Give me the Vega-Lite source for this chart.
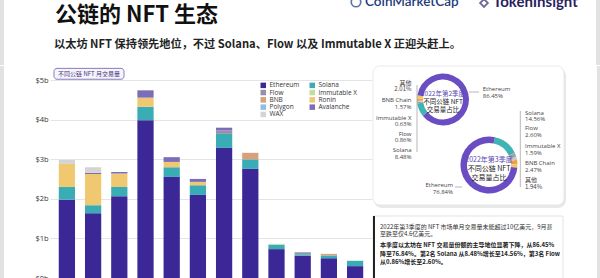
{
  "$schema": "https://vega.github.io/schema/vega-lite/v6.json",
  "background": "white",
  "padding": {"left": 0, "top": 0, "right": 0, "bottom": 0},
  "spacing": 0,
  "config": {"view": {"stroke": null}, "font": "Noto Sans CJK SC"},
  "resolve": {"scale": {"color": "independent"}, "legend": {"color": "independent"}},
  "data": {"values": [{}]},
  "datasets": {
    "bars": [
      {"month": "2021-10", "chain": "Ethereum", "rank": 1, "value": 1.98},
      {"month": "2021-10", "chain": "Solana", "rank": 2, "value": 0.32},
      {"month": "2021-10", "chain": "Ronin", "rank": 6, "value": 0.585},
      {"month": "2021-10", "chain": "WAX", "rank": 9, "value": 0.10},
      {"month": "2021-11", "chain": "Ethereum", "rank": 1, "value": 1.64},
      {"month": "2021-11", "chain": "Solana", "rank": 2, "value": 0.20},
      {"month": "2021-11", "chain": "Ronin", "rank": 6, "value": 0.79},
      {"month": "2021-11", "chain": "Avalanche", "rank": 8, "value": 0.03},
      {"month": "2021-11", "chain": "WAX", "rank": 9, "value": 0.14},
      {"month": "2021-12", "chain": "Ethereum", "rank": 1, "value": 2.07},
      {"month": "2021-12", "chain": "Solana", "rank": 2, "value": 0.23},
      {"month": "2021-12", "chain": "Ronin", "rank": 6, "value": 0.34},
      {"month": "2021-12", "chain": "Avalanche", "rank": 8, "value": 0.04},
      {"month": "2022-01", "chain": "Ethereum", "rank": 1, "value": 3.99},
      {"month": "2022-01", "chain": "Solana", "rank": 2, "value": 0.34},
      {"month": "2022-01", "chain": "Ronin", "rank": 6, "value": 0.23},
      {"month": "2022-01", "chain": "Avalanche", "rank": 8, "value": 0.185},
      {"month": "2022-02", "chain": "Ethereum", "rank": 1, "value": 2.555},
      {"month": "2022-02", "chain": "Solana", "rank": 2, "value": 0.245},
      {"month": "2022-02", "chain": "Ronin", "rank": 6, "value": 0.135},
      {"month": "2022-02", "chain": "Avalanche", "rank": 8, "value": 0.12},
      {"month": "2022-03", "chain": "Ethereum", "rank": 1, "value": 2.10},
      {"month": "2022-03", "chain": "Solana", "rank": 2, "value": 0.245},
      {"month": "2022-03", "chain": "Ronin", "rank": 6, "value": 0.085},
      {"month": "2022-03", "chain": "Avalanche", "rank": 8, "value": 0.075},
      {"month": "2022-04", "chain": "Ethereum", "rank": 1, "value": 3.29},
      {"month": "2022-04", "chain": "Solana", "rank": 2, "value": 0.355},
      {"month": "2022-04", "chain": "Flow", "rank": 3, "value": 0.085},
      {"month": "2022-04", "chain": "Avalanche", "rank": 8, "value": 0.07},
      {"month": "2022-05", "chain": "Ethereum", "rank": 1, "value": 2.76},
      {"month": "2022-05", "chain": "Solana", "rank": 2, "value": 0.24},
      {"month": "2022-05", "chain": "BNB", "rank": 5, "value": 0.165},
      {"month": "2022-06", "chain": "Ethereum", "rank": 1, "value": 0.73},
      {"month": "2022-06", "chain": "Solana", "rank": 2, "value": 0.11},
      {"month": "2022-06", "chain": "Immutable X", "rank": 4, "value": 0.025},
      {"month": "2022-07", "chain": "Ethereum", "rank": 1, "value": 0.56},
      {"month": "2022-07", "chain": "Solana", "rank": 2, "value": 0.04},
      {"month": "2022-07", "chain": "Flow", "rank": 3, "value": 0.05},
      {"month": "2022-08", "chain": "Ethereum", "rank": 1, "value": 0.50},
      {"month": "2022-08", "chain": "Solana", "rank": 2, "value": 0.07},
      {"month": "2022-08", "chain": "BNB", "rank": 5, "value": 0.04},
      {"month": "2022-09", "chain": "Ethereum", "rank": 1, "value": 0.30},
      {"month": "2022-09", "chain": "Solana", "rank": 2, "value": 0.135}
    ],
    "q2": [
      {"name": "Solana", "rank": 1, "pct": 8.48},
      {"name": "Flow", "rank": 2, "pct": 0.86},
      {"name": "Immutable X", "rank": 3, "pct": 0.63},
      {"name": "BNB Chain", "rank": 4, "pct": 1.57},
      {"name": "其他", "rank": 5, "pct": 2.01},
      {"name": "Ethereum", "rank": 6, "pct": 86.45}
    ],
    "q3": [
      {"name": "Solana", "rank": 1, "pct": 14.56},
      {"name": "Flow", "rank": 2, "pct": 2.60},
      {"name": "Immutable X", "rank": 3, "pct": 1.59},
      {"name": "BNB Chain", "rank": 4, "pct": 2.47},
      {"name": "其他", "rank": 5, "pct": 1.94},
      {"name": "Ethereum", "rank": 6, "pct": 76.84}
    ]
  },
  "vconcat": [
    {
      "width": 550,
      "height": 65,
      "layer": [
        {
          "mark": {"type": "rect", "fill": "#e2e2e2"},
          "encoding": {
            "x": {"datum": -50, "type": "quantitative", "scale": {"domain": [0, 550], "nice": false, "zero": false}, "axis": null},
            "x2": {"datum": -46},
            "y": {"datum": 0, "type": "quantitative", "scale": {"domain": [0, 65], "nice": false, "zero": false, "reverse": true}, "axis": null},
            "y2": {"datum": 65}
          }
        },
        {
          "mark": {"type": "rect", "fill": "#e2e2e2"},
          "encoding": {
            "x": {"datum": 546, "type": "quantitative", "axis": null},
            "x2": {"datum": 550},
            "y": {"datum": 0, "type": "quantitative", "axis": null},
            "y2": {"datum": 65}
          }
        },
        {
          "mark": {"type": "text", "align": "left", "baseline": "middle", "fontSize": 22, "fontWeight": "bold", "color": "#111111", "font": "Noto Sans CJK SC"},
          "encoding": {
            "x": {"datum": 5, "type": "quantitative", "axis": null},
            "y": {"datum": 15, "type": "quantitative", "axis": null},
            "text": {"value": "公链的 NFT 生态"}
          }
        },
        {
          "mark": {"type": "text", "align": "left", "baseline": "middle", "fontSize": 11.2, "fontWeight": "bold", "color": "#222222", "font": "Noto Sans CJK SC"},
          "encoding": {
            "x": {"datum": 4, "type": "quantitative", "axis": null},
            "y": {"datum": 45, "type": "quantitative", "axis": null},
            "text": {"value": "以太坊 NFT 保持领先地位，不过 Solana、Flow 以及 Immutable X 正迎头赶上。"}
          }
        },
        {
          "mark": {"type": "point", "shape": "circle", "size": 90, "filled": false, "stroke": "#1d3b7c", "strokeWidth": 1.7, "clip": true},
          "encoding": {
            "x": {"datum": 306, "type": "quantitative", "axis": null},
            "y": {"datum": 2, "type": "quantitative", "axis": null}
          }
        },
        {
          "mark": {"type": "text", "align": "left", "baseline": "middle", "fontSize": 13.5, "fontWeight": 600, "color": "#1d3b7c", "font": "Lato", "clip": true},
          "encoding": {
            "x": {"datum": 315, "type": "quantitative", "axis": null},
            "y": {"datum": 2, "type": "quantitative", "axis": null},
            "text": {"value": "CoinMarketCap"}
          }
        },
        {
          "mark": {"type": "point", "shape": "diamond", "size": 60, "filled": false, "stroke": "#3a2c6e", "strokeWidth": 1.8, "clip": true},
          "encoding": {
            "x": {"datum": 434, "type": "quantitative", "axis": null},
            "y": {"datum": 3, "type": "quantitative", "axis": null}
          }
        },
        {
          "mark": {"type": "text", "align": "left", "baseline": "middle", "fontSize": 15, "fontWeight": "bold", "color": "#2c1e5e", "font": "Lato", "clip": true},
          "encoding": {
            "x": {"datum": 443, "type": "quantitative", "axis": null},
            "y": {"datum": 2, "type": "quantitative", "axis": null},
            "text": {"value": "TokenInsight"}
          }
        }
      ]
    },
    {
      "spacing": 0,
      "resolve": {"scale": {"color": "independent"}, "legend": {"color": "independent"}},
      "hconcat": [
        {
          "width": 322,
          "height": 212,
          "resolve": {"scale": {"x": "independent"}},
          "layer": [
            {
              "data": {"name": "bars"},
              "mark": {"type": "bar"},
              "encoding": {
                "x": {"field": "month", "type": "ordinal", "scale": {"paddingInner": 0.38, "paddingOuter": 0.335}, "axis": {"labels": false, "ticks": false, "title": null, "grid": false, "domainColor": "#2a2a2a", "domainWidth": 1}},
                "y": {"field": "value", "type": "quantitative", "stack": "zero", "scale": {"domain": [0, 5.36], "nice": false},
                  "axis": {"values": [0, 1, 2, 3, 4, 5], "labelExpr": "'$' + datum.value + 'b'", "title": null, "domain": false, "ticks": false, "tickSize": 0, "labelAlign": "left", "labelPadding": 15, "labelFontSize": 7.5, "labelFont": "Open Sans", "labelColor": "#333333", "gridColor": "#e4e4e4", "labelFlush": false, "labelBound": false}},
                "color": {"field": "chain", "type": "nominal",
                  "scale": {"domain": ["Ethereum", "Flow", "BNB", "Polygon", "WAX", "Solana", "Immutable X", "Ronin", "Avalanche"],
                            "range": ["#3b2795", "#9690ad", "#daa07a", "#8ec0e4", "#d4d4d4", "#3aacb6", "#c6dc9c", "#efc870", "#7d6db8"]},
                  "legend": {"orient": "none", "legendX": 210, "legendY": 16, "columns": 2, "title": null, "symbolType": "square", "symbolSize": 30, "symbolStrokeWidth": 0, "labelFontSize": 6.5, "labelFont": "Open Sans", "labelColor": "#333333", "rowPadding": 0.3, "columnPadding": 9, "labelOffset": 3, "padding": 0}},
                "order": {"field": "rank", "type": "quantitative"}
              }
            },
            {
              "data": {"values": [{}]},
              "mark": {"type": "rect", "fill": "#e2e2e2"},
              "encoding": {
                "x": {"datum": -50, "type": "quantitative", "scale": {"domain": [0, 322], "nice": false, "zero": false}, "axis": null},
                "x2": {"datum": -46},
                "y": {"datum": 0, "type": "quantitative"},
                "y2": {"datum": 5.36}
              }
            },
            {
              "data": {"values": [{}]},
              "mark": {"type": "rect", "fill": "#f6f4fc", "stroke": "#6b5cae", "strokeWidth": 0.8, "cornerRadius": 3},
              "encoding": {
                "x": {"datum": 4, "type": "quantitative", "scale": {"domain": [0, 322], "nice": false, "zero": false}, "axis": null},
                "x2": {"datum": 74},
                "y": {"datum": 5.30, "type": "quantitative"},
                "y2": {"datum": 5.025}
              }
            },
            {
              "data": {"values": [{}]},
              "mark": {"type": "text", "align": "center", "baseline": "middle", "fontSize": 6, "color": "#3c2f7a", "font": "Noto Sans CJK SC"},
              "encoding": {
                "x": {"datum": 39, "type": "quantitative", "scale": {"domain": [0, 322], "nice": false, "zero": false}, "axis": null},
                "y": {"datum": 5.165, "type": "quantitative"},
                "text": {"value": "不同公链 NFT 月交易量"}
              }
            }
          ]
        },
        {
          "width": 228,
          "height": 213,
          "resolve": {"scale": {"theta": "independent"}},
          "layer": [
            {
              "mark": {"type": "rect", "fill": "#e2e2e2"},
              "encoding": {
                "x": {"datum": 224, "type": "quantitative", "scale": {"domain": [0, 228], "nice": false, "zero": false}, "axis": null},
                "x2": {"datum": 228},
                "y": {"datum": 0, "type": "quantitative", "scale": {"domain": [0, 213], "nice": false, "zero": false, "reverse": true}, "axis": null},
                "y2": {"datum": 213}
              }
            },
            {
              "mark": {"type": "rect", "fill": "#e8e8e8", "cornerRadius": 8},
              "encoding": {
                "x": {"datum": 1, "type": "quantitative", "axis": null},
                "x2": {"datum": 193},
                "y": {"datum": 2, "type": "quantitative", "axis": null},
                "y2": {"datum": 142}
              }
            },
            {
              "mark": {"type": "rect", "fill": "white", "stroke": "#e3e3e3", "strokeWidth": 0.8, "cornerRadius": 7},
              "encoding": {
                "x": {"datum": 0, "type": "quantitative", "axis": null},
                "x2": {"datum": 191},
                "y": {"datum": 0, "type": "quantitative", "axis": null},
                "y2": {"datum": 139}
              }
            },
            {
              "data": {"name": "q2"},
              "mark": {"type": "arc", "outerRadius": 26, "innerRadius": 20},
              "encoding": {
                "x": {"datum": 70, "type": "quantitative", "axis": null},
                "y": {"datum": 33.5, "type": "quantitative", "axis": null},
                "theta": {"field": "pct", "type": "quantitative", "stack": true, "scale": {"domain": [0, 100], "range": [4.03, 10.313]}},
                "color": {"field": "name", "type": "nominal",
                  "scale": {"domain": ["Ethereum", "Solana", "Flow", "Immutable X", "BNB Chain", "其他"],
                            "range": ["#6a4dc3", "#3fb5b3", "#a3a3ad", "#c9c9c9", "#f0a048", "#f2c862"]},
                  "legend": null},
                "order": {"field": "rank", "type": "quantitative"}
              }
            },
            {
              "data": {"name": "q3"},
              "mark": {"type": "arc", "outerRadius": 28.5, "innerRadius": 22},
              "encoding": {
                "x": {"datum": 116, "type": "quantitative", "axis": null},
                "y": {"datum": 99, "type": "quantitative", "axis": null},
                "theta": {"field": "pct", "type": "quantitative", "stack": true, "scale": {"domain": [0, 100], "range": [0.21, 6.493]}},
                "color": {"field": "name", "type": "nominal", "legend": null},
                "order": {"field": "rank", "type": "quantitative"}
              }
            },
            {
              "mark": {"type": "text", "align": "center", "baseline": "middle", "fontSize": 6.5, "color": "#5b49b5", "font": "Noto Sans CJK SC"},
              "encoding": {
                "x": {"datum": 70, "type": "quantitative", "axis": null},
                "y": {"datum": 28.3, "type": "quantitative", "axis": null},
                "text": {"value": "2022年第2季度"}
              }
            },
            {
              "mark": {"type": "text", "align": "center", "baseline": "middle", "fontSize": 6.5, "lineHeight": 8, "color": "#222222", "font": "Noto Sans CJK SC"},
              "encoding": {
                "x": {"datum": 70, "type": "quantitative", "axis": null},
                "y": {"datum": 35.9, "type": "quantitative", "axis": null},
                "text": {"value": ["不同公链 NFT", "交易量占比"]}
              }
            },
            {
              "mark": {"type": "text", "align": "center", "baseline": "middle", "fontSize": 7, "color": "#5b49b5", "font": "Noto Sans CJK SC"},
              "encoding": {
                "x": {"datum": 116, "type": "quantitative", "axis": null},
                "y": {"datum": 94.3, "type": "quantitative", "axis": null},
                "text": {"value": "2022年第3季度"}
              }
            },
            {
              "mark": {"type": "text", "align": "center", "baseline": "middle", "fontSize": 7, "lineHeight": 9, "color": "#222222", "font": "Noto Sans CJK SC"},
              "encoding": {
                "x": {"datum": 116, "type": "quantitative", "axis": null},
                "y": {"datum": 103.3, "type": "quantitative", "axis": null},
                "text": {"value": ["不同公链 NFT", "交易量占比"]}
              }
            },
            {
              "mark": {"type": "text", "align": "right", "baseline": "middle", "fontSize": 6, "lineHeight": 6.5, "color": "#444444", "font": "Noto Sans CJK SC"},
              "encoding": {"x": {"datum": 38.5, "type": "quantitative", "axis": null}, "y": {"datum": 16.7, "type": "quantitative", "axis": null}, "text": {"value": ["其他", "2.01%"]}}
            },
            {
              "mark": {"type": "text", "align": "right", "baseline": "middle", "fontSize": 6, "lineHeight": 6.5, "color": "#444444", "font": "Open Sans"},
              "encoding": {"x": {"datum": 38.5, "type": "quantitative", "axis": null}, "y": {"datum": 34.3, "type": "quantitative", "axis": null}, "text": {"value": ["BNB Chain", "1.57%"]}}
            },
            {
              "mark": {"type": "text", "align": "right", "baseline": "middle", "fontSize": 6, "lineHeight": 6.5, "color": "#444444", "font": "Open Sans"},
              "encoding": {"x": {"datum": 38.5, "type": "quantitative", "axis": null}, "y": {"datum": 51.7, "type": "quantitative", "axis": null}, "text": {"value": ["Immutable X", "0.63%"]}}
            },
            {
              "mark": {"type": "text", "align": "right", "baseline": "middle", "fontSize": 6, "lineHeight": 6.5, "color": "#444444", "font": "Open Sans"},
              "encoding": {"x": {"datum": 38.5, "type": "quantitative", "axis": null}, "y": {"datum": 67.7, "type": "quantitative", "axis": null}, "text": {"value": ["Flow", "0.86%"]}}
            },
            {
              "mark": {"type": "text", "align": "right", "baseline": "middle", "fontSize": 6, "lineHeight": 6.5, "color": "#444444", "font": "Open Sans"},
              "encoding": {"x": {"datum": 38.5, "type": "quantitative", "axis": null}, "y": {"datum": 84.3, "type": "quantitative", "axis": null}, "text": {"value": ["Solana", "8.48%"]}}
            },
            {
              "mark": {"type": "text", "align": "left", "baseline": "middle", "fontSize": 6, "lineHeight": 6.5, "color": "#444444", "font": "Open Sans"},
              "encoding": {"x": {"datum": 109.7, "type": "quantitative", "axis": null}, "y": {"datum": 23.3, "type": "quantitative", "axis": null}, "text": {"value": ["Ethereum", "86.45%"]}}
            },
            {
              "mark": {"type": "text", "align": "left", "baseline": "middle", "fontSize": 6, "lineHeight": 6.5, "color": "#444444", "font": "Open Sans"},
              "encoding": {"x": {"datum": 152, "type": "quantitative", "axis": null}, "y": {"datum": 46.7, "type": "quantitative", "axis": null}, "text": {"value": ["Solana", "14.56%"]}}
            },
            {
              "mark": {"type": "text", "align": "left", "baseline": "middle", "fontSize": 6, "lineHeight": 6.5, "color": "#444444", "font": "Open Sans"},
              "encoding": {"x": {"datum": 152, "type": "quantitative", "axis": null}, "y": {"datum": 62.3, "type": "quantitative", "axis": null}, "text": {"value": ["Flow", "2.60%"]}}
            },
            {
              "mark": {"type": "text", "align": "left", "baseline": "middle", "fontSize": 6, "lineHeight": 6.5, "color": "#444444", "font": "Open Sans"},
              "encoding": {"x": {"datum": 152, "type": "quantitative", "axis": null}, "y": {"datum": 80, "type": "quantitative", "axis": null}, "text": {"value": ["Immutable X", "1.59%"]}}
            },
            {
              "mark": {"type": "text", "align": "left", "baseline": "middle", "fontSize": 6, "lineHeight": 6.5, "color": "#444444", "font": "Open Sans"},
              "encoding": {"x": {"datum": 152, "type": "quantitative", "axis": null}, "y": {"datum": 97.2, "type": "quantitative", "axis": null}, "text": {"value": ["BNB Chain", "2.47%"]}}
            },
            {
              "mark": {"type": "text", "align": "left", "baseline": "middle", "fontSize": 6, "lineHeight": 7, "color": "#444444", "font": "Noto Sans CJK SC"},
              "encoding": {"x": {"datum": 152, "type": "quantitative", "axis": null}, "y": {"datum": 113.8, "type": "quantitative", "axis": null}, "text": {"value": ["其他", "1.94%"]}}
            },
            {
              "mark": {"type": "text", "align": "right", "baseline": "middle", "fontSize": 6, "lineHeight": 6.5, "color": "#444444", "font": "Open Sans"},
              "encoding": {"x": {"datum": 80, "type": "quantitative", "axis": null}, "y": {"datum": 119, "type": "quantitative", "axis": null}, "text": {"value": ["Ethereum", "76.84%"]}}
            },
            {
              "mark": {"type": "rule", "color": "#888888", "strokeWidth": 0.6},
              "encoding": {"x": {"datum": 44, "type": "quantitative", "axis": null}, "y": {"datum": 19, "type": "quantitative", "axis": null}, "y2": {"datum": 86}}
            },
            {
              "mark": {"type": "rule", "color": "#888888", "strokeWidth": 0.6},
              "encoding": {"x": {"datum": 96, "type": "quantitative", "axis": null}, "x2": {"datum": 106}, "y": {"datum": 26, "type": "quantitative", "axis": null}}
            },
            {
              "mark": {"type": "rule", "color": "#888888", "strokeWidth": 0.6},
              "encoding": {"x": {"datum": 147.3, "type": "quantitative", "axis": null}, "y": {"datum": 45, "type": "quantitative", "axis": null}, "y2": {"datum": 121}}
            },
            {
              "mark": {"type": "rule", "color": "#888888", "strokeWidth": 0.6},
              "encoding": {"x": {"datum": 82, "type": "quantitative", "axis": null}, "x2": {"datum": 89}, "y": {"datum": 121, "type": "quantitative", "axis": null}}
            },
            {
              "mark": {"type": "rect", "fill": "white", "stroke": "#dddddd", "strokeWidth": 0.8},
              "encoding": {
                "x": {"datum": 0, "type": "quantitative", "axis": null},
                "x2": {"datum": 190},
                "y": {"datum": 150, "type": "quantitative", "axis": null},
                "y2": {"datum": 216}
              }
            },
            {
              "mark": {"type": "rect", "fill": "#222222"},
              "encoding": {
                "x": {"datum": 0, "type": "quantitative", "axis": null},
                "x2": {"datum": 2},
                "y": {"datum": 150, "type": "quantitative", "axis": null},
                "y2": {"datum": 213}
              }
            },
            {
              "mark": {"type": "text", "align": "left", "baseline": "middle", "fontSize": 6, "lineHeight": 7.3, "color": "#333333", "font": "Noto Sans CJK SC"},
              "encoding": {"x": {"datum": 7, "type": "quantitative", "axis": null}, "y": {"datum": 161, "type": "quantitative", "axis": null},
                "text": {"value": ["2022年第3季度的 NFT 市场单月交易量未能超过10亿美元，9月甚", "至跌至仅4.6亿美元。"]}}
            },
            {
              "mark": {"type": "text", "align": "left", "baseline": "middle", "fontSize": 6, "lineHeight": 8.3, "fontWeight": "bold", "color": "#222222", "font": "Noto Sans CJK SC"},
              "encoding": {"x": {"datum": 7, "type": "quantitative", "axis": null}, "y": {"datum": 179.3, "type": "quantitative", "axis": null},
                "text": {"value": ["本季度以太坊在 NFT 交易量份额的主导地位显著下降，从86.45%", "降至76.84%。第2名 Solana 从8.48%增长至14.56%，第3名 Flow", "从0.86%增长至2.60%。"]}}
            }
          ]
        }
      ]
    }
  ]
}
